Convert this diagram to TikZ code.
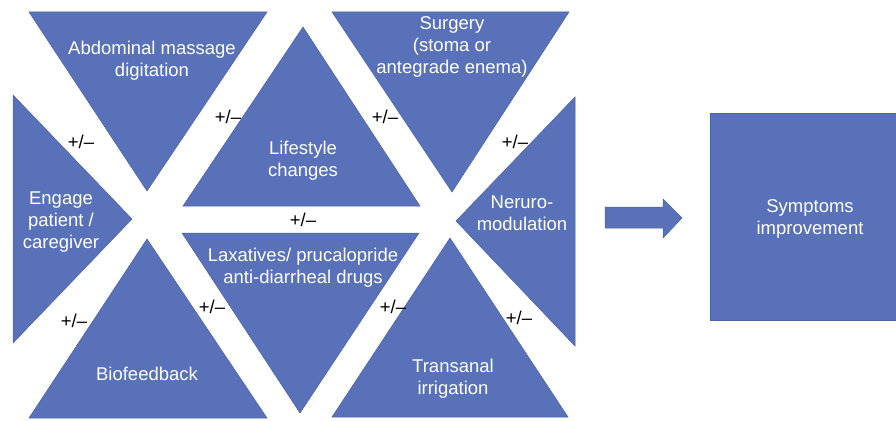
\documentclass[tikz,border=0pt]{standalone}
\usepackage{fontspec}
\setmainfont{Liberation Sans}
\definecolor{tri}{RGB}{88,113,184}
\definecolor{triedge}{RGB}{72,97,168}
\begin{document}
\begin{tikzpicture}[x=1pt,y=-1pt,
  shapefill/.style={fill=tri,draw=triedge,line width=0.5pt},
  lbl/.style={text=white,font=\fontsize{18.5}{22}\selectfont,align=center,inner sep=0pt},
  pm/.style={text=black,font=\fontsize{18.5}{20}\selectfont,inner sep=0pt}]
\useasboundingbox (0,0) rectangle (896,420);
\fill[white] (0,0) rectangle (896,420);
% triangles
\path[shapefill] (29,12) -- (267,12) -- (147,191) -- cycle;   % abdominal
\path[shapefill] (303,27) -- (420,206) -- (183,206) -- cycle;  % lifestyle
\path[shapefill] (332,12) -- (569,12) -- (452,192) -- cycle;  % surgery
\path[shapefill] (13,95) -- (132,219) -- (13,343) -- cycle;   % engage
\path[shapefill] (575,97) -- (456,221) -- (575,346) -- cycle; % neuromodulation
\path[shapefill] (147,239) -- (267,418) -- (29,418) -- cycle; % biofeedback
\path[shapefill] (182,233) -- (419,233) -- (300,413) -- cycle; % laxatives
\path[shapefill] (450,238) -- (568,417) -- (332,417) -- cycle; % transanal
% result box
\path[shapefill] (710,113) rectangle (898,320);
% block arrow
\path[shapefill] (605,207) -- (663,207) -- (663,199) -- (682,218) -- (663,238) -- (663,228) -- (605,228) -- cycle;
% labels
\node[lbl] (abd) at (152,61) {Abdominal massage\\digitation};
\node[lbl] (life) at (303,161) {Lifestyle\\changes};
\node[lbl] (surg) at (452,47) {Surgery\\(stoma or\\antegrade enema)};
\node[lbl] (eng) at (61,222) {Engage\\patient /\\caregiver};
\node[lbl] (neu) at (522,213) {Neruro-\\modulation};
\node[lbl] (bio) at (147,374) {Biofeedback};
\node[lbl] (lax) at (303,267.5) {Laxatives/ prucalopride\\anti-diarrheal drugs};
\node[lbl] (trans) at (453,379) {Transanal\\irrigation};
\node[lbl] (symp) at (810,218.5) {Symptoms\\improvement};
% +/- labels
\node[pm] (p1) at (81,142) {+/–};
\node[pm] (p2) at (228,117) {+/–};
\node[pm] (p3) at (385,117) {+/–};
\node[pm] (p4) at (515,142) {+/–};
\node[pm] (p5) at (303,220) {+/–};
\node[pm] (p6) at (74,321) {+/–};
\node[pm] (p7) at (212,307) {+/–};
\node[pm] (p8) at (393,307) {+/–};
\node[pm] (p9) at (519,318) {+/–};
\end{tikzpicture}
\end{document}
